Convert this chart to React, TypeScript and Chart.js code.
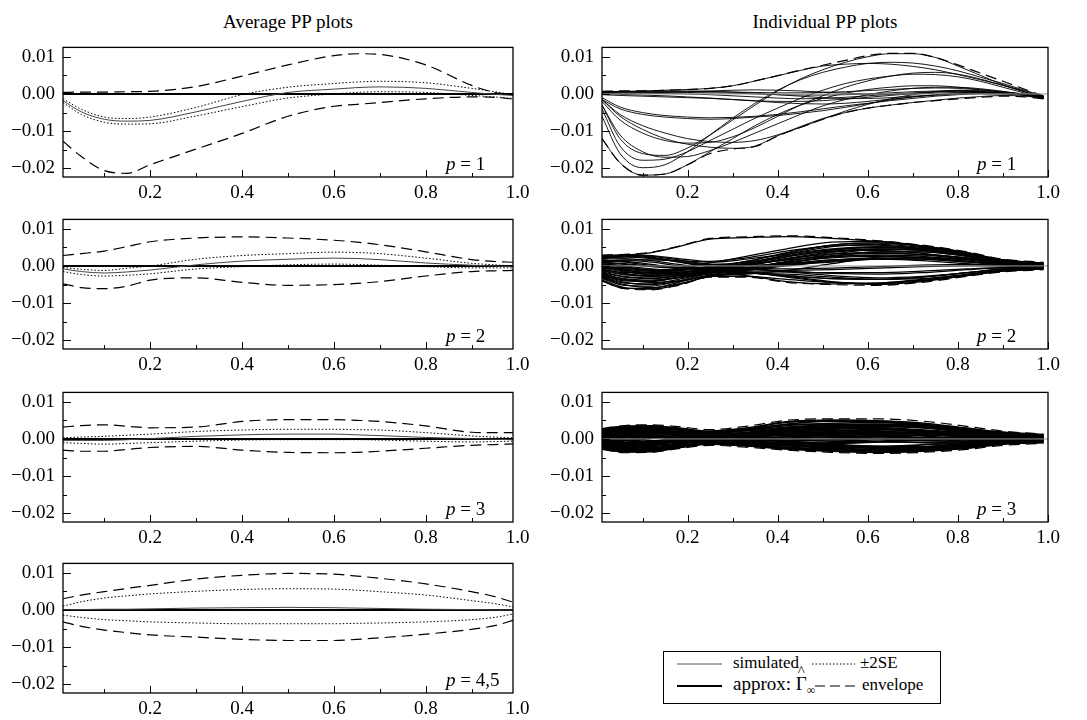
import React, { useEffect, useRef } from "react";
import { Chart, registerables } from "chart.js";

Chart.register(...registerables);

const FONT = "'Liberation Serif', 'Times New Roman', Times, serif";
const UNIT = 0.001; // all series values below are in units of 0.001

// ---------- axes ----------
const xTickValues = [0.1, 0.2, 0.3, 0.4, 0.5, 0.6, 0.7, 0.8, 0.9, 1.0];
const yTickValues = [-0.02, -0.015, -0.01, -0.005, 0, 0.005, 0.01];
const yMin = -0.0223;
const yMax = 0.0125;

// ---------- average PP plots ----------
const avgX = [0.01, 0.05, 0.1, 0.15, 0.2, 0.3, 0.4, 0.5, 0.6, 0.65, 0.7, 0.8, 0.9, 0.95, 0.99];
const approxX = [0.01, 0.99];
const approxY = [0, 0];

const avg1Sim = [-1.8, -4.8, -6.8, -7.3, -7.1, -4.8, -2.0, 0.4, 1.3, 1.7, 1.9, 1.5, 0.4, -0.1, -0.4];
const avg1SeUp = [-1.3, -4.1, -6.2, -6.6, -6.2, -3.6, -0.2, 1.8, 2.8, 3.2, 3.4, 3.0, 1.5, 0.6, -0.2];
const avg1SeLo = [-2.3, -5.5, -7.6, -8.1, -8.0, -5.9, -3.4, -1.1, 0.0, 0.4, 0.6, 0.4, -0.4, -0.8, -1.2];
const avg1EnvUp = [0.4, 0.5, 0.5, 0.6, 0.7, 2.0, 4.8, 7.8, 10.3, 10.8, 10.6, 7.8, 2.3, 0.4, -0.2];
const avg1EnvLo = [-12.7, -16.8, -20.6, -21.3, -19.0, -14.8, -10.6, -6.0, -3.3, -2.8, -2.3, -1.3, -0.8, -0.9, -1.4];

const avg2Sim = [-0.8, -1.5, -1.9, -1.6, -1.1, 0.3, 1.3, 1.8, 2.1, 2.0, 1.7, 0.8, 0.2, 0.0, -0.2];
const avg2SeUp = [-0.4, -0.9, -1.2, -0.6, 0.0, 1.8, 2.8, 3.3, 3.7, 3.6, 3.3, 2.1, 0.7, 0.3, 0.0];
const avg2SeLo = [-1.5, -2.3, -2.7, -2.5, -2.1, -0.8, -0.2, 0.3, 0.5, 0.4, 0.2, -0.2, -0.5, -0.5, -0.5];
const avg2EnvUp = [2.8, 3.3, 4.0, 5.2, 6.5, 7.5, 7.8, 7.5, 6.9, 6.4, 5.7, 3.8, 1.7, 1.2, 1.0];
const avg2EnvLo = [-4.8, -5.8, -6.1, -5.4, -3.8, -3.2, -4.4, -5.2, -5.0, -4.7, -4.2, -2.7, -1.5, -1.3, -1.2];

const avg3Sim = [-0.4, -0.4, -0.4, -0.2, 0.1, 0.7, 1.1, 1.3, 1.3, 1.1, 0.9, 0.4, 0.1, -0.1, -0.2];
const avg3SeUp = [0.3, 0.5, 0.7, 1.0, 1.3, 2.0, 2.4, 2.6, 2.6, 2.5, 2.4, 1.7, 0.8, 0.5, 0.3];
const avg3SeLo = [-1.0, -1.2, -1.4, -1.2, -1.0, -0.6, -0.3, -0.2, -0.2, -0.2, -0.3, -0.6, -0.8, -0.7, -0.6];
const avg3EnvUp = [3.2, 3.6, 3.8, 3.4, 3.0, 3.2, 4.7, 5.2, 5.2, 5.0, 4.7, 3.5, 1.8, 1.7, 1.7];
const avg3EnvLo = [-3.0, -3.3, -3.3, -2.8, -2.3, -2.0, -3.0, -3.6, -3.7, -3.6, -3.3, -2.5, -1.7, -1.5, -1.3];

const avg4Sim = [0.0, 0.1, 0.2, 0.2, 0.3, 0.5, 0.6, 0.7, 0.6, 0.5, 0.4, 0.2, 0.1, 0.0, 0.0];
const avg4SeUp = [1.0, 2.2, 3.2, 3.8, 4.3, 5.0, 5.5, 5.7, 5.6, 5.3, 4.9, 4.0, 2.5, 1.7, 0.8];
const avg4SeLo = [-1.4, -2.0, -2.6, -2.9, -3.2, -3.5, -3.7, -3.7, -3.7, -3.6, -3.5, -3.2, -2.6, -2.0, -1.1];
const avg4EnvUp = [3.0, 4.0, 4.9, 5.8, 6.6, 8.3, 9.3, 9.8, 9.6, 9.1, 8.5, 7.0, 4.9, 3.6, 2.1];
const avg4EnvLo = [-3.2, -4.4, -5.4, -6.1, -6.7, -7.3, -7.9, -8.2, -8.2, -7.9, -7.5, -6.5, -5.2, -4.2, -2.8];

// ---------- individual PP plots ----------
const zeroX = [0.01, 1.0];
const zeroY = [0, 0];

const ind1X = [0.01, 0.05, 0.1, 0.15, 0.2, 0.25, 0.3, 0.35, 0.4, 0.45, 0.5, 0.55, 0.6, 0.65, 0.7, 0.75, 0.8, 0.85, 0.9, 0.95, 0.99];
const ind1EnvUp = [0.7, 0.8, 0.8, 1.0, 1.2, 1.5, 2.2, 3.5, 4.9, 6.4, 7.7, 9.0, 10.3, 10.9, 10.9, 9.8, 7.8, 5.6, 3.4, 1.2, -0.5];
const ind1EnvLo = [-12.0, -18.5, -21.8, -21.5, -19.0, -16.0, -14.8, -14.1, -11.3, -9.0, -6.8, -5.0, -3.8, -3.0, -2.3, -1.8, -1.3, -0.9, -0.6, -0.8, -1.3];
const ind1Curves = [
  [0.5, 0.6, 0.5, 0.5, 0.4, 0.3, 0.2, 0.0, -0.2, -0.3, -0.3, -0.2, 0.0, 0.3, 0.6, 0.8, 0.9, 0.7, 0.3, -0.2, -0.8],
  [0.3, 0.3, 0.2, 0.1, 0.0, -0.2, -0.5, -0.8, -1.1, -1.3, -1.2, -0.9, -0.5, -0.1, 0.3, 0.6, 0.8, 0.6, 0.2, -0.3, -1.0],
  [0.0, -0.1, -0.3, -0.5, -0.8, -1.1, -1.5, -1.8, -2.0, -2.0, -1.8, -1.4, -0.9, -0.4, 0.1, 0.5, 0.7, 0.6, 0.2, -0.3, -1.2],
  [0.6, 0.7, 0.7, 0.8, 0.8, 0.7, 0.5, 0.2, -0.2, -0.6, -1.0, -1.2, -1.2, -1.0, -0.6, -0.3, 0.0, 0.1, 0.0, -0.3, -0.9],
  [0.2, 0.2, 0.3, 0.4, 0.6, 0.8, 1.0, 1.1, 1.0, 0.8, 0.5, 0.2, 0.0, -0.1, 0.0, 0.2, 0.4, 0.4, 0.2, -0.2, -0.7],
  [-0.2, -0.4, -0.6, -0.8, -1.0, -1.2, -1.5, -1.9, -2.3, -2.6, -2.7, -2.5, -2.0, -1.4, -0.8, -0.3, 0.1, 0.3, 0.2, -0.2, -1.0],
  [0.4, 0.5, 0.5, 0.6, 0.6, 0.6, 0.5, 0.4, 0.3, 0.3, 0.4, 0.6, 0.9, 1.2, 1.5, 1.6, 1.5, 1.1, 0.6, 0.0, -0.6],
  [-1.0, -3.5, -5.0, -5.8, -6.2, -6.4, -6.3, -6.0, -5.5, -4.8, -4.0, -3.2, -2.5, -1.8, -1.2, -0.6, -0.2, 0.0, 0.0, -0.3, -0.8],
  [-1.5, -4.0, -5.5, -6.2, -6.6, -6.8, -6.6, -6.2, -5.8, -5.2, -4.5, -3.6, -2.6, -1.6, -0.8, -0.2, 0.2, 0.4, 0.3, -0.1, -0.7],
  [-3.0, -12.0, -16.0, -16.5, -14.5, -11.0, -7.0, -3.0, 0.8, 4.0, 6.5, 8.5, 10.0, 10.8, 10.8, 9.8, 7.5, 5.0, 2.5, 0.5, -0.8],
  [0.3, 0.6, 0.8, 1.0, 1.2, 1.5, 2.2, 3.5, 4.9, 6.3, 7.5, 8.0, 8.2, 8.0, 7.4, 6.5, 5.2, 3.8, 2.3, 0.8, -0.5],
  [-2.0, -7.0, -10.5, -12.5, -13.2, -13.0, -11.5, -9.0, -6.0, -3.0, -0.5, 1.8, 3.5, 4.8, 5.6, 5.8, 5.3, 4.0, 2.3, 0.5, -1.0],
  [-4.0, -14.0, -17.8, -17.5, -15.5, -12.5, -9.5, -6.5, -3.8, -1.2, 1.0, 2.8, 4.0, 4.8, 5.3, 5.2, 4.6, 3.4, 1.8, 0.2, -1.2],
  [-12.0, -18.5, -21.8, -21.5, -19.0, -15.5, -12.0, -8.5, -5.5, -3.0, -1.2, 0.2, 1.2, 1.8, 2.2, 2.2, 1.8, 1.2, 0.5, -0.4, -1.2],
  [-1.5, -6.0, -9.5, -12.0, -13.5, -14.3, -14.6, -14.0, -11.2, -8.8, -6.6, -5.0, -3.8, -3.0, -2.3, -1.7, -1.1, -0.7, -0.4, -0.6, -1.1],
  [-3.0, -11.0, -15.5, -17.0, -16.8, -15.2, -13.0, -10.5, -8.0, -5.5, -3.2, -1.5, -0.2, 0.8, 1.5, 1.8, 1.8, 1.4, 0.7, -0.2, -1.0],
  [-6.0, -16.0, -19.8, -19.0, -15.5, -11.0, -6.5, -2.5, 1.0, 3.8, 5.8, 7.2, 8.2, 8.5, 8.3, 7.5, 6.2, 4.5, 2.8, 0.9, -0.7],
  [-1.5, -5.5, -8.5, -10.5, -12.0, -12.8, -13.0, -12.5, -11.0, -9.0, -6.8, -4.6, -2.8, -1.3, -0.2, 0.6, 1.0, 0.9, 0.5, -0.2, -1.0],
];

const indX = [0.01, 0.06, 0.12, 0.18, 0.25, 0.33, 0.42, 0.52, 0.62, 0.72, 0.82, 0.9, 0.99];

const ind2EnvUp = [2.9, 3.1, 3.7, 5.3, 7.4, 7.8, 8.1, 7.6, 6.8, 5.6, 3.8, 1.8, 1.0];
const ind2EnvLo = [-4.1, -6.1, -6.4, -5.2, -3.0, -3.0, -4.4, -5.0, -5.2, -4.4, -2.8, -1.6, -1.0];
const ind2Curves = [
  [2.0, 2.8, 3.6, 5.2, 7.2, 7.6, 7.9, 7.4, 6.6, 5.4, 3.6, 1.6, 0.8],
  [2.6, 2.9, 2.4, 1.2, 0.0, 1.2, 3.4, 5.6, 6.2, 5.2, 3.2, 1.4, 0.6],
  [-3.8, -5.8, -6.2, -5.0, -2.8, -2.2, -1.2, 0.6, 2.4, 3.0, 2.2, 1.0, 0.3],
  [-1.0, -1.8, -1.6, -0.6, 0.8, 2.6, 4.6, 6.4, 6.6, 5.4, 3.4, 1.5, 0.6],
  [0.5, 0.0, -0.8, -1.2, -0.6, 0.6, 2.4, 4.2, 5.0, 4.6, 3.0, 1.2, 0.4],
  [-2.0, -3.4, -3.8, -3.0, -1.8, -0.8, 0.8, 2.6, 3.8, 3.8, 2.6, 1.0, 0.2],
  [1.4, 1.2, 0.4, -0.6, -1.4, -1.8, -2.8, -4.2, -5.0, -4.2, -2.6, -1.4, -0.8],
  [-3.0, -4.6, -4.8, -3.6, -2.2, -2.6, -4.2, -4.8, -4.6, -3.6, -2.2, -1.2, -0.7],
  [0.0, -1.0, -1.8, -1.8, -1.2, 0.0, 1.8, 3.6, 4.6, 4.4, 3.0, 1.4, 0.5],
  [2.2, 2.6, 2.2, 1.0, -0.2, -0.6, -0.8, -0.6, -0.2, 0.2, 0.4, 0.2, 0.0],
  [-1.6, -2.8, -3.2, -2.6, -1.6, -1.8, -2.6, -3.4, -3.6, -3.0, -1.8, -0.9, -0.5],
  [1.0, 0.6, 0.0, -0.4, -0.4, 0.8, 2.8, 4.4, 5.0, 4.4, 2.8, 1.2, 0.4],
  [-2.6, -4.0, -4.2, -3.0, -1.4, -0.4, 1.0, 2.2, 2.6, 2.2, 1.2, 0.4, 0.0],
  [0.3, -0.4, -1.0, -1.0, -0.6, -0.8, -1.6, -2.6, -3.2, -2.8, -1.8, -0.8, -0.3],
  [-0.6, -1.6, -2.2, -1.8, -0.8, 0.4, 2.0, 3.2, 3.6, 3.0, 1.8, 0.7, 0.1],
  [2.8, 3.0, 2.8, 2.0, 1.2, 2.2, 4.0, 5.4, 5.6, 4.6, 2.8, 1.2, 0.5],
  [-4.0, -6.0, -6.0, -4.4, -2.4, -1.2, 0.2, 1.4, 1.8, 1.4, 0.6, 0.0, -0.4],
  [-1.2, -2.2, -2.6, -2.2, -1.4, -0.6, 0.6, 1.6, 2.0, 1.8, 1.0, 0.4, 0.0],
  [1.8, 2.0, 1.4, 0.4, -0.6, -0.4, 0.8, 2.6, 3.8, 3.8, 2.6, 1.2, 0.5],
  [-2.2, -3.6, -4.4, -4.0, -2.8, -2.8, -3.6, -4.4, -4.6, -3.8, -2.4, -1.2, -0.6],
  [0.8, 0.4, -0.2, -0.6, -0.4, 0.4, 1.6, 2.6, 2.8, 2.2, 1.2, 0.4, 0.0],
  [-0.2, -1.2, -2.0, -2.2, -1.8, -1.0, 0.4, 1.6, 2.2, 2.2, 1.6, 0.8, 0.3],
  [-3.4, -5.2, -5.4, -4.0, -2.0, -0.6, 1.2, 3.2, 4.4, 4.2, 2.8, 1.2, 0.4],
  [1.2, 1.6, 1.6, 1.4, 1.0, 1.8, 3.2, 4.6, 5.2, 4.8, 3.4, 1.6, 0.7],
  [-1.4, -2.4, -2.8, -2.0, -0.8, -0.8, -1.4, -2.0, -2.2, -1.8, -1.0, -0.5, -0.3],
  [0.2, -0.6, -1.4, -1.6, -1.0, 0.2, 2.0, 3.8, 4.2, 3.4, 2.0, 0.8, 0.2],
  [-2.8, -4.4, -5.0, -4.2, -2.6, -1.8, -1.6, -1.8, -1.8, -1.4, -0.8, -0.4, -0.3],
  [2.4, 2.8, 2.6, 1.6, 0.4, 0.2, 0.4, 1.0, 1.8, 2.2, 1.8, 0.8, 0.3],
  [-0.8, -2.0, -2.8, -2.6, -1.8, -1.4, -1.2, -1.0, -0.6, -0.2, 0.0, 0.0, -0.1],
  [0.6, -0.2, -1.2, -1.6, -1.2, 0.6, 3.0, 5.2, 5.8, 5.0, 3.2, 1.4, 0.5],
  [-1.8, -3.0, -3.4, -2.6, -1.2, 0.2, 1.6, 2.8, 3.4, 3.2, 2.2, 1.0, 0.3],
  [1.6, 1.0, 0.2, -0.4, -0.8, -1.6, -3.0, -4.4, -4.8, -4.0, -2.6, -1.4, -0.8],
  [-2.4, -3.8, -4.0, -3.2, -2.0, -1.2, 0.0, 1.2, 1.8, 1.8, 1.2, 0.6, 0.1],
  [0.0, -0.8, -1.4, -1.2, -0.4, 1.2, 3.6, 5.6, 6.2, 5.4, 3.6, 1.6, 0.7],
  [-0.4, -1.4, -2.4, -2.4, -1.6, -0.6, 1.0, 2.4, 3.0, 2.6, 1.6, 0.6, 0.1],
  [2.0, 2.4, 2.0, 1.2, 0.4, 1.0, 2.6, 4.0, 4.6, 4.2, 3.0, 1.4, 0.6],
  [-3.2, -5.0, -5.8, -4.8, -2.8, -2.0, -2.2, -3.0, -3.6, -3.4, -2.4, -1.2, -0.6],
  [1.0, 1.4, 1.0, 0.0, -1.0, -1.8, -2.6, -3.4, -3.6, -3.0, -1.8, -0.8, -0.4],
];

const ind3EnvUp = [2.8, 3.6, 3.8, 3.3, 2.5, 3.4, 5.0, 5.4, 5.4, 4.8, 3.4, 2.1, 1.3];
const ind3EnvLo = [-2.8, -3.7, -3.6, -2.6, -1.7, -2.2, -3.0, -3.6, -3.9, -3.6, -2.8, -1.7, -1.2];
const ind3Curves = [
  [2.4, 3.2, 3.4, 2.9, 2.1, 2.9, 4.5, 5.0, 4.9, 4.3, 2.9, 1.8, 1.0],
  [-2.4, -3.3, -3.2, -2.2, -1.3, -1.8, -2.6, -3.2, -3.5, -3.2, -2.4, -1.3, -0.8],
  [1.8, 2.5, 2.6, 2.0, 1.4, 2.2, 3.6, 4.2, 4.4, 3.8, 2.5, 1.4, 0.8],
  [-1.8, -2.7, -2.9, -2.0, -0.9, -0.6, -0.4, -0.2, 0.1, 0.3, 0.2, 0.1, -0.2],
  [0.5, 1.2, 1.8, 1.6, 1.0, 1.5, 2.8, 3.6, 3.9, 3.5, 2.2, 1.2, 0.6],
  [-0.6, -1.5, -2.2, -1.8, -1.0, -1.4, -2.2, -2.8, -3.0, -2.7, -1.9, -1.0, -0.5],
  [1.2, 1.6, 1.2, 0.4, -0.2, 0.2, 1.2, 2.0, 2.5, 2.4, 1.6, 0.9, 0.4],
  [-1.2, -2.0, -2.4, -1.6, -0.5, 0.4, 1.8, 2.6, 2.8, 2.2, 1.2, 0.5, 0.0],
  [2.2, 2.9, 2.7, 1.8, 0.8, 0.2, -0.6, -1.4, -2.0, -2.1, -1.6, -0.9, -0.5],
  [0.0, -0.5, -1.0, -0.9, -0.5, -0.6, -1.0, -1.6, -2.2, -2.4, -2.0, -1.2, -0.7],
  [-2.0, -3.0, -3.0, -2.0, -1.1, -1.4, -1.8, -2.0, -2.0, -1.6, -1.0, -0.5, -0.3],
  [0.8, 1.5, 2.0, 2.0, 1.6, 2.4, 4.0, 4.8, 4.6, 3.6, 2.0, 0.9, 0.3],
  [-0.3, -0.8, -1.2, -0.8, 0.0, 0.8, 1.8, 2.4, 2.2, 1.4, 0.6, 0.2, -0.1],
  [1.5, 2.2, 2.4, 1.6, 0.6, 0.0, -0.8, -1.8, -2.6, -2.8, -2.2, -1.2, -0.6],
  [-1.5, -2.2, -1.8, -0.6, 0.4, 1.2, 2.4, 3.2, 3.4, 3.0, 1.8, 0.8, 0.2],
  [0.3, 0.6, 0.8, 0.6, 0.3, 0.6, 1.2, 1.6, 1.6, 1.2, 0.6, 0.3, 0.1],
  [2.0, 3.0, 3.2, 2.6, 1.8, 2.6, 3.8, 4.0, 3.2, 2.0, 0.8, 0.2, -0.2],
  [-2.2, -3.1, -3.1, -2.2, -1.2, -1.6, -2.4, -2.9, -2.8, -2.2, -1.2, -0.6, -0.2],
  [0.6, 0.4, -0.4, -0.8, -0.6, -0.2, 0.6, 1.2, 1.4, 1.4, 1.0, 0.6, 0.3],
  [-0.8, -1.0, -0.6, 0.2, 0.8, 1.6, 3.0, 3.8, 4.0, 3.4, 2.0, 1.0, 0.4],
  [1.0, 1.8, 2.2, 1.8, 1.1, 1.0, 0.8, 0.4, 0.0, -0.4, -0.6, -0.4, -0.3],
  [-1.0, -1.8, -2.0, -1.4, -0.7, -0.8, -1.4, -2.2, -2.9, -3.0, -2.2, -1.2, -0.6],
  [2.5, 3.3, 3.0, 1.6, 0.2, -0.6, -1.4, -2.0, -2.4, -2.2, -1.4, -0.7, -0.4],
  [-2.5, -3.4, -3.3, -2.0, -0.6, 0.6, 2.2, 3.4, 3.8, 3.2, 1.6, 0.6, 0.0],
  [0.2, -0.2, -0.6, -0.4, 0.2, 1.0, 2.4, 3.0, 3.0, 2.4, 1.2, 0.5, 0.1],
  [1.4, 1.9, 1.8, 1.0, 0.2, -0.2, -0.4, -0.6, -0.8, -0.9, -0.7, -0.4, -0.2],
  [-1.6, -2.5, -2.6, -1.7, -0.8, -0.4, 0.2, 0.6, 0.6, 0.3, -0.2, -0.3, -0.3],
  [0.9, 1.2, 1.0, 0.5, 0.2, 0.8, 2.0, 3.0, 3.4, 3.4, 2.6, 1.6, 0.9],
  [-0.4, -1.2, -1.6, -1.2, -0.4, -0.2, 0.0, -0.2, -0.6, -1.0, -1.1, -0.8, -0.5],
  [1.6, 2.6, 3.0, 2.4, 1.4, 1.8, 2.8, 3.0, 2.6, 1.8, 0.9, 0.4, 0.1],
  [-1.4, -2.8, -3.4, -2.3, -1.0, -1.0, -1.6, -2.4, -3.4, -3.2, -1.8, -0.8, -0.4],
  [0.0, 0.8, 1.4, 1.2, 0.6, 0.6, 1.0, 1.0, 0.6, 0.2, 0.0, 0.0, 0.0],
  [2.1, 2.4, 1.8, 0.8, 0.0, 0.4, 1.6, 2.8, 3.6, 3.8, 2.8, 1.6, 0.8],
  [-2.1, -2.4, -1.6, -0.4, 0.4, 0.2, -0.6, -1.6, -2.4, -2.6, -1.9, -1.0, -0.5],
  [0.4, 1.0, 1.4, 1.2, 0.8, 1.4, 2.6, 3.2, 2.8, 1.8, 0.6, 0.0, -0.3],
  [-0.9, -1.6, -1.4, -0.5, 0.2, 0.6, 1.2, 1.4, 1.0, 0.4, -0.2, -0.4, -0.4],
  [1.1, 1.4, 0.8, -0.2, -0.8, -1.2, -1.8, -2.6, -3.2, -3.0, -2.0, -1.0, -0.5],
  [-0.2, 0.2, 0.6, 0.8, 0.8, 1.4, 2.2, 2.2, 1.6, 0.8, 0.2, 0.0, -0.1],
  [2.6, 3.4, 3.5, 2.8, 1.9, 2.2, 3.2, 3.6, 3.4, 3.0, 2.4, 1.8, 1.2],
  [-2.6, -3.5, -3.3, -2.3, -1.4, -1.9, -2.7, -3.3, -3.6, -3.3, -2.5, -1.4, -1.0],
  [0.7, 1.0, 0.8, 0.2, -0.4, -0.8, -1.2, -1.2, -0.8, -0.2, 0.4, 0.6, 0.5],
  [-0.5, -0.3, 0.2, 0.6, 0.6, 0.4, 0.2, 0.4, 1.0, 1.6, 1.6, 1.0, 0.6],
  [1.3, 2.0, 2.6, 2.4, 1.8, 2.8, 4.6, 5.0, 4.8, 4.0, 2.4, 1.2, 0.5],
  [-1.3, -2.0, -2.6, -2.0, -1.2, -1.2, -1.2, -1.0, -0.6, -0.2, 0.0, 0.0, -0.2],
  [0.1, 0.4, 0.4, 0.1, -0.2, -0.4, -0.4, 0.0, 0.6, 1.0, 0.9, 0.5, 0.2],
  [-1.1, -1.4, -1.0, -0.2, 0.4, 1.0, 1.6, 1.8, 1.2, 0.2, -0.6, -0.8, -0.6],
  [1.7, 2.1, 1.8, 1.2, 0.6, 1.0, 1.8, 2.2, 2.0, 1.4, 0.6, 0.2, 0.0],
  [-1.7, -3.0, -3.2, -2.2, -1.0, -0.4, 0.6, 1.4, 1.8, 1.8, 1.2, 0.6, 0.2],
];

// ---------- styles ----------
type Style = { color: string; width: number; dash?: number[] };
const SIM: Style = { color: "#444", width: 1 };
const APPROX: Style = { color: "#000", width: 2 };
const SE: Style = { color: "#000", width: 1, dash: [1.5, 2] };
const ENV: Style = { color: "#000", width: 1.2, dash: [11, 6] };
const IND1: Style = { color: "#000", width: 0.9 };
const IND2: Style = { color: "#000", width: 1.25 };
const IND3: Style = { color: "#000", width: 1.6 };
const ZERO: Style = { color: "#999", width: 1 };

const LEG_SIM: Style = { color: "#555", width: 1 };
const LEG_SE: Style = { color: "#000", width: 1, dash: [1.5, 2] };
const LEG_ENV: Style = { color: "#000", width: 1.2, dash: [10, 5] };

function series(xs: number[], ys: number[], s: Style) {
  return {
    data: xs.map((x, i) => ({ x, y: ys[i] * UNIT })),
    borderColor: s.color,
    borderWidth: s.width,
    borderDash: s.dash || [],
    pointRadius: 0,
    fill: false,
    cubicInterpolationMode: "monotone" as const,
  };
}

function avgSets(sim: number[], seUp: number[], seLo: number[], envUp: number[], envLo: number[]) {
  return [
    series(avgX, envUp, ENV),
    series(avgX, envLo, ENV),
    series(avgX, seUp, SE),
    series(avgX, seLo, SE),
    series(avgX, sim, SIM),
    series(approxX, approxY, APPROX),
  ];
}

function indSets(xs: number[], curves: number[][], envUp: number[], envLo: number[], st: Style) {
  return [
    series(zeroX, zeroY, ZERO),
    ...curves.map((c) => series(xs, c, st)),
    series(xs, envUp, ENV),
    series(xs, envLo, ENV),
  ];
}

// ---------- layout ----------
const BOX_TOPS = [38, 210, 383, 554];
const BOX_H = 139;
const PAD_TOP = 10;
const X_AXIS_H = 30;
const COLS = [
  { left: 0, width: 538, yw: 63, padRight: 25, xMax: 0.99, labelOff: 67 },
  { left: 540, width: 533, yw: 62, padRight: 25, xMax: 1.0, labelOff: 71 },
];

const panels = [
  { col: 0, row: 0, label: "1", sets: () => avgSets(avg1Sim, avg1SeUp, avg1SeLo, avg1EnvUp, avg1EnvLo) },
  { col: 0, row: 1, label: "2", sets: () => avgSets(avg2Sim, avg2SeUp, avg2SeLo, avg2EnvUp, avg2EnvLo) },
  { col: 0, row: 2, label: "3", sets: () => avgSets(avg3Sim, avg3SeUp, avg3SeLo, avg3EnvUp, avg3EnvLo) },
  { col: 0, row: 3, label: "4,5", sets: () => avgSets(avg4Sim, avg4SeUp, avg4SeLo, avg4EnvUp, avg4EnvLo) },
  { col: 1, row: 0, label: "1", sets: () => indSets(ind1X, ind1Curves, ind1EnvUp, ind1EnvLo, IND1) },
  { col: 1, row: 1, label: "2", sets: () => indSets(indX, ind2Curves, ind2EnvUp, ind2EnvLo, IND2) },
  { col: 1, row: 2, label: "3", sets: () => indSets(indX, ind3Curves, ind3EnvUp, ind3EnvLo, IND3) },
];

const framePlugin = {
  id: "frame",
  afterDatasetsDraw(chart: any, _args: any, opts: any) {
    const { ctx, chartArea: a } = chart;
    const xs = chart.scales.x;
    const ys = chart.scales.y;
    ctx.save();
    ctx.strokeStyle = "#000";
    ctx.lineWidth = 1;
    ctx.setLineDash([]);
    ctx.beginPath();
    for (const v of xTickValues) {
      if (v < xs.min - 1e-9 || v > xs.max + 1e-9) continue;
      const px = Math.round(xs.getPixelForValue(v)) + 0.5;
      const major = Math.round(v * 10) % 2 === 0;
      ctx.moveTo(px, a.bottom);
      ctx.lineTo(px, a.bottom - (major ? 7 : 4));
    }
    for (const v of yTickValues) {
      const py = Math.round(ys.getPixelForValue(v)) + 0.5;
      const major = Math.round(v * 1000) % 10 === 0;
      ctx.moveTo(a.left, py);
      ctx.lineTo(a.left + (major ? 8 : 4), py);
    }
    ctx.stroke();
    ctx.lineWidth = 1.3;
    ctx.strokeRect(a.left, a.top, a.right - a.left, a.bottom - a.top);

    const startX = a.right - opts.labelOff;
    const baseY = a.bottom - 7;
    ctx.fillStyle = "#000";
    ctx.textBaseline = "alphabetic";
    ctx.textAlign = "left";
    ctx.font = `italic 19px ${FONT}`;
    ctx.fillText("p", startX, baseY);
    const pw = ctx.measureText("p").width;
    ctx.font = `19px ${FONT}`;
    ctx.fillText(" = " + opts.label, startX + pw, baseY);
    ctx.restore();
  },
};

function xLabel(v: number) {
  const k = Math.round(v * 10);
  return k % 2 === 0 ? (k / 10).toFixed(1) : "";
}
function yLabel(v: number) {
  const k = Math.round(v * 1000);
  if (k % 10 !== 0) return "";
  if (k === 0) return "0.00";
  return (k < 0 ? "\u2212" : "") + (Math.abs(k) / 1000).toFixed(2);
}

function makeConfig(p: (typeof panels)[number]) {
  const c = COLS[p.col];
  const tickFont = { family: FONT, size: 19 };
  return {
    type: "line" as const,
    data: { datasets: p.sets() },
    options: {
      animation: false as const,
      responsive: false,
      devicePixelRatio: 1,
      events: [] as any[],
      layout: { padding: { top: PAD_TOP, right: c.padRight, left: 0, bottom: 0 } },
      plugins: {
        legend: { display: false },
        tooltip: { enabled: false },
        frame: { label: p.label, labelOff: c.labelOff },
      },
      scales: {
        x: {
          type: "linear" as const,
          min: 0.01,
          max: c.xMax,
          afterBuildTicks: (s: any) => {
            s.ticks = xTickValues.map((v) => ({ value: v }));
          },
          afterFit: (s: any) => {
            s.height = X_AXIS_H;
          },
          grid: { display: false, drawTicks: false },
          border: { display: false },
          ticks: {
            autoSkip: false,
            maxRotation: 0,
            minRotation: 0,
            padding: 5,
            color: "#000",
            font: tickFont,
            callback: (v: any) => xLabel(Number(v)),
          },
        },
        y: {
          type: "linear" as const,
          min: yMin,
          max: yMax,
          afterBuildTicks: (s: any) => {
            s.ticks = yTickValues.map((v) => ({ value: v }));
          },
          afterFit: (s: any) => {
            s.width = c.yw;
          },
          grid: { display: false, drawTicks: false },
          border: { display: false },
          ticks: {
            autoSkip: false,
            padding: 8,
            color: "#000",
            font: tickFont,
            callback: (v: any) => yLabel(Number(v)),
          },
        },
      },
    },
    plugins: [framePlugin],
  };
}

function Sample({ s, left, top, w }: { s: Style; left: number; top: number; w: number }) {
  return (
    <svg width={w} height={8} style={{ position: "absolute", left, top }}>
      <line
        x1={0}
        y1={4}
        x2={w}
        y2={4}
        stroke={s.color}
        strokeWidth={s.width}
        strokeDasharray={s.dash ? s.dash.join(" ") : undefined}
      />
    </svg>
  );
}

export default function App() {
  const refs = useRef<(HTMLCanvasElement | null)[]>([]);

  useEffect(() => {
    const charts = panels.map((p, i) => new Chart(refs.current[i] as HTMLCanvasElement, makeConfig(p) as any));
    return () => charts.forEach((c) => c.destroy());
  }, []);

  const titleStyle = (cx: number): React.CSSProperties => ({
    position: "absolute",
    left: cx - 150,
    top: 12,
    width: 300,
    textAlign: "center",
    fontFamily: FONT,
    fontSize: 19,
    lineHeight: "19px",
    color: "#000",
  });

  const txt = (left: number, top: number, size: number): React.CSSProperties => ({
    position: "absolute",
    left,
    top,
    fontSize: size,
    lineHeight: `${size}px`,
    whiteSpace: "nowrap",
  });

  return (
    <div style={{ position: "absolute", left: 0, top: 0, width: 1087, height: 720, background: "#fff", overflow: "hidden" }}>
      <div style={titleStyle(288)}>Average PP plots</div>
      <div style={titleStyle(825)}>Individual PP plots</div>
      {panels.map((p, i) => {
        const c = COLS[p.col];
        const h = PAD_TOP + BOX_H + X_AXIS_H;
        return (
          <canvas
            key={i}
            ref={(el) => {
              refs.current[i] = el;
            }}
            width={c.width}
            height={h}
            style={{ position: "absolute", left: c.left, top: BOX_TOPS[p.row] - PAD_TOP, width: c.width, height: h }}
          />
        );
      })}
      <div
        style={{
          position: "absolute",
          left: 663,
          top: 651,
          width: 278,
          height: 53,
          boxSizing: "border-box",
          border: "1px solid #000",
          fontFamily: FONT,
          color: "#000",
        }}
      >
        <Sample s={LEG_SIM} left={13} top={8} w={45} />
        <span style={txt(69, 2, 17)}>simulated</span>
        <Sample s={LEG_SE} left={148} top={8} w={43} />
        <span style={txt(196, 2, 17)}>±2SE</span>
        <Sample s={APPROX} left={13} top={30} w={45} />
        <span style={txt(69, 22, 19)}>
          approx:{" "}
          <span style={{ position: "relative", display: "inline-block" }}>
            Γ
            <span style={{ position: "absolute", left: 2, top: -12, fontSize: 15 }}>^</span>
          </span>
          <span style={{ fontSize: 12, position: "relative", top: 4 }}>∞</span>
        </span>
        <Sample s={LEG_ENV} left={151} top={30} w={40} />
        <span style={txt(198, 24, 17)}>envelope</span>
      </div>
    </div>
  );
}
